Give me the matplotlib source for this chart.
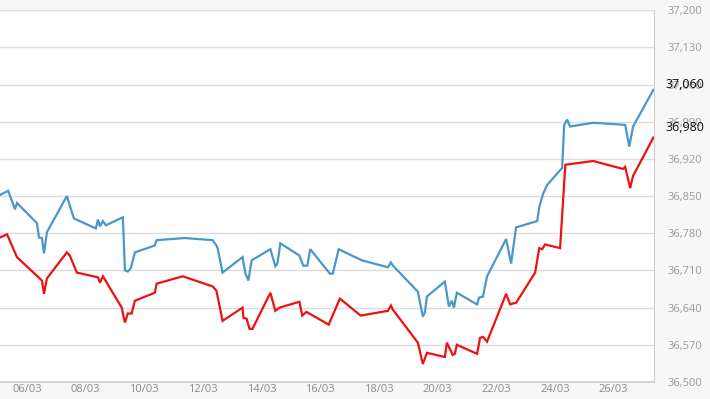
import matplotlib
matplotlib.use("Agg")
import matplotlib.pyplot as plt

# Day-of-March positions (fractional days) and values
blue_days = [5.08, 5.36, 5.59, 5.66, 6.34, 6.41, 6.51, 6.58, 6.68, 7.36, 7.53, 7.60,
             8.35, 8.42, 8.49, 8.59, 8.69, 9.27, 9.34, 9.44, 9.54, 9.68, 10.36, 10.42,
             11.38, 12.33, 12.46, 12.50, 12.67, 13.35, 13.45, 13.55, 13.66, 14.30, 14.47,
             14.54, 14.64, 15.29, 15.42, 15.56, 15.66, 16.33, 16.43, 16.63, 17.42, 18.31,
             18.41, 18.48, 19.33, 19.50, 19.57, 19.64, 20.25, 20.39, 20.49, 20.56, 20.66,
             21.35, 21.42, 21.55, 21.69, 22.34, 22.51, 22.68, 23.40, 23.47, 23.60, 23.74,
             24.25, 24.32, 24.42, 24.52, 25.31, 26.40, 26.54, 26.67, 27.36]
blue_vals = [36852, 36860, 36825, 36837, 36799, 36772, 36771, 36742, 36782, 36850, 36820, 36808,
             36789, 36806, 36793, 36803, 36795, 36810, 36710, 36708, 36714, 36744, 36757, 36767,
             36771, 36767, 36757, 36752, 36706, 36735, 36704, 36691, 36729, 36750, 36718,
             36723, 36761, 36738, 36719, 36719, 36750, 36704, 36704, 36750, 36729, 36716,
             36725, 36719, 36670, 36623, 36631, 36661, 36689, 36642, 36653, 36640, 36668,
             36646, 36659, 36661, 36699, 36769, 36723, 36791, 36803, 36829, 36854, 36871,
             36903, 36984, 36994, 36981, 36988, 36984, 36943, 36981, 37050]

red_days = [5.08, 5.32, 5.66, 6.51, 6.58, 6.68, 7.36, 7.46, 7.70, 8.42, 8.49, 8.59,
            9.23, 9.34, 9.44, 9.57, 9.68, 10.36, 10.42, 11.31, 12.33, 12.46, 12.67, 13.35,
            13.38, 13.49, 13.59, 13.69, 14.30, 14.47, 14.61, 15.29, 15.39, 15.53, 16.29,
            16.67, 17.38, 18.31, 18.41, 18.48, 19.33, 19.50, 19.64, 20.25, 20.32, 20.52,
            20.59, 20.66, 21.35, 21.45, 21.55, 21.69, 22.34, 22.48, 22.58, 22.68, 23.33,
            23.47, 23.57, 23.67, 24.18, 24.36, 25.31, 26.33, 26.40, 26.57, 26.67, 27.36]
red_vals = [36772, 36778, 36735, 36691, 36666, 36695, 36744, 36738, 36706, 36697, 36687, 36699,
            36640, 36612, 36629, 36629, 36653, 36668, 36685, 36699, 36680, 36672, 36615, 36640,
            36621, 36619, 36600, 36600, 36668, 36634, 36640, 36651, 36625, 36632, 36608,
            36657, 36625, 36634, 36644, 36636, 36574, 36534, 36555, 36547, 36574, 36551,
            36553, 36570, 36553, 36583, 36585, 36576, 36666, 36646, 36648, 36649, 36706,
            36752, 36750, 36759, 36752, 36909, 36916, 36901, 36905, 36865, 36888, 36960]

x_ticks = [6, 8, 10, 12, 14, 16, 18, 20, 22, 24, 26]
x_tick_labels = ["06/03", "08/03", "10/03", "12/03", "14/03", "16/03",
                 "18/03", "20/03", "22/03", "24/03", "26/03"]
y_ticks = [36500, 36570, 36640, 36710, 36780, 36850, 36920, 36990, 37060, 37130, 37200]
y_tick_labels = ["36,500", "36,570", "36,640", "36,710", "36,780", "36,850",
                 "36,920", "36,990", "37,060", "37,130", "37,200"]
last_values = [37060, 36980]
last_labels = ["37,060", "36,980"]

plt.rcParams['font.family'] = ['Open Sans', 'DejaVu Sans']

fig = plt.figure(figsize=(7.1, 3.99), dpi=100, facecolor="#f7f7f7")
ax = fig.add_axes([0.0, 0.0426, 0.921, 0.932])
ax.set_facecolor("white")

ax.plot(blue_days, blue_vals, color="#4a97c9", lw=1.6, solid_joinstyle="miter", zorder=3)
ax.plot(red_days, red_vals, color="#ee1111", lw=1.6, solid_joinstyle="miter", zorder=3)

ax.set_xlim(5.08, 27.38)
ax.set_ylim(36500, 37200)

ax.set_yticks(y_ticks)
ax.set_yticklabels(y_tick_labels)
ax.yaxis.tick_right()
ax.tick_params(axis="y", length=0, pad=10, labelsize=8, labelcolor="#9a9a9a")
ax.grid(axis="y", color="#dcdcdc", lw=1.0, zorder=0)

ax.set_xticks(x_ticks)
ax.set_xticklabels(x_tick_labels)
ax.tick_params(axis="x", length=0, pad=1.5, labelsize=8, labelcolor="#8a8a8a")

for side in ["left", "top"]:
    ax.spines[side].set_visible(False)
ax.spines["right"].set_color("#d0d0d0")
ax.spines["bottom"].set_color("#c8ccd4")
ax.spines["bottom"].set_linewidth(1.2)

for val, lab in zip(last_values, last_labels):
    ax.annotate(lab, xy=(1.0, val), xycoords=("axes fraction", "data"),
                xytext=(8, 0), textcoords="offset points", ha="left", va="center",
                fontsize=9, color="#111111", annotation_clip=False)

fig.savefig("out.png", dpi=100, facecolor=fig.get_facecolor())
